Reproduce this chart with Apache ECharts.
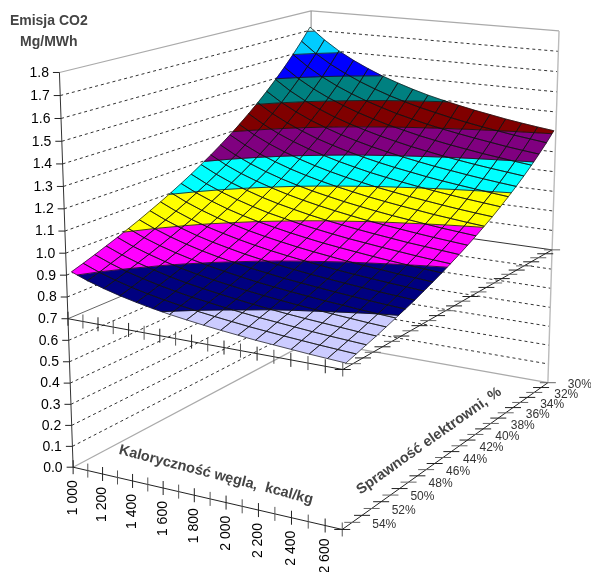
<!DOCTYPE html>
<html><head><meta charset="utf-8">
<style>html,body{margin:0;padding:0;background:#fff}#c{width:591px;height:572px}</style>
<script src="https://cdn.jsdelivr.net/npm/echarts@6/dist/echarts.min.js"></script>
</head><body><div id="c"></div>
<script>
// ---- chart data ----
const calorificValues = [1000,1100,1200,1300,1400,1500,1600,1700,1800,1900,2000,2100,2200,2300,2400,2500,2600];
const efficiencies = [30,31,32,33,34,35,36,37,38,39,40,41,42,43,44,45,46,47,48,49,50,51,52,53,54];
const valueTicks = [0,0.1,0.2,0.3,0.4,0.5,0.6,0.7,0.8,0.9,1.0,1.1,1.2,1.3,1.4,1.5,1.6,1.7,1.8];
const calorificLabels = ['1 000','1 200','1 400','1 600','1 800','2 000','2 200','2 400','2 600'];
const efficiencyLabels = ['30%','32%','34%','36%','38%','40%','42%','44%','46%','48%','50%','52%','54%'];
const eff30 = [1.719,1.659,1.608,1.566,1.530,1.498,1.471,1.446,1.424,1.405,1.388,1.372,1.358,1.344,1.332,1.321,1.311];
const eff31 = [1.657,1.599,1.551,1.511,1.476,1.446,1.419,1.396,1.375,1.357,1.340,1.325,1.311,1.299,1.287,1.277,1.267];
const eff32 = [1.600,1.545,1.499,1.460,1.427,1.398,1.373,1.350,1.331,1.313,1.297,1.283,1.270,1.258,1.246,1.236,1.227];
const eff33 = [1.547,1.494,1.450,1.413,1.381,1.353,1.329,1.307,1.289,1.271,1.256,1.242,1.230,1.218,1.208,1.198,1.189];
const eff34 = [1.497,1.446,1.404,1.368,1.337,1.311,1.288,1.267,1.249,1.232,1.218,1.204,1.192,1.181,1.171,1.162,1.153];
const eff35 = [1.450,1.401,1.361,1.326,1.297,1.271,1.249,1.229,1.212,1.196,1.182,1.169,1.158,1.147,1.137,1.128,1.120];
const eff36 = [1.406,1.359,1.320,1.287,1.258,1.234,1.212,1.193,1.176,1.161,1.148,1.135,1.124,1.114,1.105,1.096,1.088];
const eff37 = [1.365,1.320,1.282,1.250,1.223,1.199,1.178,1.160,1.143,1.129,1.116,1.104,1.093,1.083,1.074,1.066,1.058];
const eff38 = [1.326,1.282,1.246,1.215,1.188,1.165,1.145,1.127,1.112,1.097,1.085,1.073,1.063,1.053,1.044,1.036,1.029];
const eff39 = [1.289,1.247,1.211,1.182,1.156,1.134,1.115,1.098,1.083,1.069,1.057,1.046,1.036,1.026,1.018,1.010,1.003];
const eff40 = [1.254,1.213,1.179,1.150,1.125,1.104,1.085,1.069,1.054,1.041,1.029,1.018,1.009,1.000,0.991,0.984,0.977];
const eff41 = [1.221,1.181,1.148,1.121,1.097,1.076,1.058,1.042,1.028,1.015,1.003,0.993,0.984,0.975,0.967,0.960,0.953];
const eff42 = [1.190,1.152,1.120,1.093,1.069,1.049,1.032,1.016,1.002,0.990,0.979,0.969,0.960,0.951,0.944,0.937,0.930];
const eff43 = [1.160,1.123,1.092,1.066,1.043,1.023,1.007,0.991,0.978,0.966,0.955,0.946,0.937,0.929,0.921,0.914,0.908];
const eff44 = [1.132,1.096,1.066,1.040,1.018,0.999,0.983,0.968,0.955,0.943,0.933,0.924,0.915,0.907,0.900,0.893,0.887];
const eff45 = [1.105,1.070,1.041,1.016,0.995,0.976,0.960,0.946,0.933,0.922,0.912,0.902,0.894,0.887,0.879,0.873,0.867];
const eff46 = [1.079,1.045,1.016,0.992,0.972,0.954,0.938,0.924,0.912,0.901,0.891,0.882,0.874,0.867,0.860,0.854,0.848];
const eff47 = [1.055,1.022,0.994,0.970,0.950,0.933,0.917,0.904,0.892,0.881,0.871,0.863,0.855,0.848,0.841,0.835,0.829];
const eff48 = [1.031,0.999,0.972,0.949,0.929,0.912,0.898,0.884,0.873,0.862,0.853,0.845,0.837,0.830,0.823,0.817,0.812];
const eff49 = [1.009,0.977,0.951,0.929,0.910,0.893,0.879,0.866,0.854,0.844,0.835,0.827,0.819,0.813,0.806,0.800,0.795];
const eff50 = [0.987,0.956,0.931,0.909,0.890,0.874,0.860,0.848,0.837,0.827,0.818,0.810,0.803,0.796,0.790,0.784,0.779];
const eff51 = [0.967,0.937,0.912,0.891,0.872,0.856,0.843,0.831,0.820,0.810,0.801,0.793,0.786,0.780,0.774,0.768,0.763];
const eff52 = [0.947,0.918,0.893,0.873,0.855,0.840,0.826,0.815,0.804,0.795,0.786,0.779,0.772,0.765,0.759,0.754,0.749];
const eff53 = [0.928,0.899,0.875,0.855,0.838,0.823,0.810,0.798,0.788,0.779,0.770,0.763,0.756,0.750,0.744,0.739,0.734];
const eff54 = [0.910,0.882,0.859,0.839,0.822,0.807,0.794,0.783,0.773,0.764,0.756,0.748,0.742,0.736,0.730,0.725,0.720];
const emissionRows = [eff30,eff31,eff32,eff33,eff34,eff35,eff36,eff37,eff38,eff39,eff40,eff41,eff42,eff43,eff44,eff45,eff46,eff47,eff48,eff49,eff50,eff51,eff52,eff53,eff54];
const bandColors = ['#CCCCFF','#000080','#FF00FF','#FFFF00','#00FFFF','#800080','#800000','#008080','#0000FF','#00CCFF','#CCFFFF'];
const bandStart = 0.7, bandStep = 0.1;

// ---- camera: world box (bins along each category axis, value height) to page ----
const BX = 17, BY = 25, BZ = 1.8;
const cameraAnchors = [
  [0,0,0, 73.3,467.5],[0,0,1.8, 59.3,72],[0,0,0.7, 68.3,319.5],
  [BX,0,0, 342.3,529.3],[BX,0,0.7, 342.3,369],
  [BX,BY,0, 548.3,383],[BX,BY,1.8, 559,31],[BX,BY,0.7, 552,250],
  [0,BY,0, 311,340],[0,BY,1.8, 311.3,11]
];
function solveCamera(){
  const n=11, A=[...Array(n)].map(()=>Array(n+1).fill(0));
  function add(r,b){for(let i=0;i<n;i++){for(let j=0;j<n;j++)A[i][j]+=r[i]*r[j];A[i][n]+=r[i]*b;}}
  cameraAnchors.forEach(a=>{
    const x=a[0]/BX,y=a[1]/BY,z=a[2]/BZ,u=a[3]/500,v=a[4]/500;
    add([x,y,z,1,0,0,0,0,-u*x,-u*y,-u*z],u);
    add([0,0,0,0,x,y,z,1,-v*x,-v*y,-v*z],v);
  });
  for(let i=0;i<n;i++){
    let p=i;for(let r=i+1;r<n;r++)if(Math.abs(A[r][i])>Math.abs(A[p][i]))p=r;
    [A[i],A[p]]=[A[p],A[i]];
    for(let r=0;r<n;r++)if(r!==i){const f=A[r][i]/A[i][i];for(let c=i;c<=n;c++)A[r][c]-=f*A[i][c];}
  }
  return A.map((row,i)=>row[n]/row[i]);
}
const cam = solveCamera();
function project(X,Y,Z){
  const x=X/BX,y=Y/BY,z=Z/BZ,w=cam[8]*x+cam[9]*y+cam[10]*z+1;
  return [500*(cam[0]*x+cam[1]*y+cam[2]*z+cam[3])/w,500*(cam[4]*x+cam[5]*y+cam[6]*z+cam[7])/w];
}
// surface nodes inside the box
const surfX = i => 0.1 + i*(BX-0.1)/(calorificValues.length-1);
const surfY = r => 24.7 - r*24.4/(efficiencies.length-1);

const dark='#222', font='Liberation Sans, Arial, sans-serif';
function line(api,a,b,color,width,dash){
  const p=api.coord(a),q=api.coord(b);
  return {type:'line',shape:{x1:p[0],y1:p[1],x2:q[0],y2:q[1]},style:{stroke:color,lineWidth:width,lineDash:dash||null,fill:null}};
}
function text(api,pt,str,opts){
  const p=api.coord(pt);
  return {type:'text',x:p[0],y:p[1],rotation:opts.rotation||0,
    style:{text:str,align:opts.align||'center',verticalAlign:'middle',fill:opts.fill||'#000',font:(opts.weight||'normal')+' '+opts.size+'px '+font}};
}
// ---- box series ----
function renderWall(params,api){
  const t=valueTicks[params.dataIndex], A=project(0,0,t),D=project(0,BY,t),C=project(BX,BY,t);
  let c1='#333',c2='#333',w=1,dash=[3,3];
  if(params.dataIndex===0||params.dataIndex===valueTicks.length-1){c1=c2='#aaa';w=1.2;dash=null;}
  if(Math.abs(t-0.7)<1e-6){c1='#666';c2='#333';w=1;dash=null;}
  return {type:'group',children:[line(api,A,D,c1,w,dash),line(api,D,C,c2,w,dash)]};
}
function renderVerticals(params,api){
  const cols=['#333','#888','#bbb'], c=[[0,0],[0,BY],[BX,BY]][params.dataIndex];
  return line(api,project(c[0],c[1],0),project(c[0],c[1],BZ),cols[params.dataIndex],params.dataIndex===2?1.4:1);
}
function renderValueTick(params,api){
  const t=valueTicks[params.dataIndex],p=project(0,0,t);
  return {type:'group',children:[
    line(api,[p[0]-6.5,p[1]],p,dark,1),
    text(api,[p[0]-10.5,p[1]+0.5],t.toFixed(1),{size:14,align:'right'})
  ]};
}
function renderFloorAxes(params,api){
  const lvl=[0,0.7][params.dataIndex],ch=[];
  const a=project(0,0,lvl),b=project(BX,0,lvl),c=project(BX,BY,lvl);
  ch.push(line(api,a,b,dark,1),line(api,b,c,dark,1));
  for(let i=0;i<=BX;i++){const p=project(i,0,lvl);ch.push(line(api,[p[0],p[1]-7],[p[0],p[1]+7],i%2?'#555':dark,1));}
  for(let j=0;j<=BY;j++){const p=project(BX,j,lvl);ch.push(line(api,[p[0]-8,p[1]],[p[0]+8,p[1]],j%2?'#666':dark,1));}
  return {type:'group',children:ch};
}
function renderCalorificLabel(params,api){
  const p=project(params.dataIndex*2,0,0);
  return text(api,[p[0],p[1]+13],calorificLabels[params.dataIndex],{size:14,align:'right',rotation:Math.PI/2});
}
function renderEfficiencyLabel(params,api){
  const p=project(BX,BY-params.dataIndex*2,0);
  return text(api,[p[0]+32,p[1]+2],efficiencyLabels[params.dataIndex],{size:12,fill:'#333'});
}
// ---- surface ----
const surfaceCells=[];
for(let r=0;r<efficiencies.length-1;r++)for(let i=0;i<calorificValues.length-1;i++)surfaceCells.push([i,r]);
function cellNodes(i,r){
  return [[i,r],[i+1,r],[i+1,r+1],[i,r+1]].map(n=>[surfX(n[0]),surfY(n[1]),emissionRows[n[1]][n[0]]]);
}
function clipAt(poly,level,keepAbove){
  const out=[];
  for(let k=0;k<poly.length;k++){
    const a=poly[k],b=poly[(k+1)%poly.length];
    const ia=keepAbove?a[2]>=level:a[2]<=level, ib=keepAbove?b[2]>=level:b[2]<=level;
    if(ia)out.push(a);
    if(ia!==ib){const t=(level-a[2])/(b[2]-a[2]);out.push([a[0]+t*(b[0]-a[0]),a[1]+t*(b[1]-a[1]),level]);}
  }
  return out;
}
function renderCellFill(params,api){
  const nodes=cellNodes(api.value(0),api.value(1)),ch=[];
  bandColors.forEach((col,b)=>{
    let poly=clipAt(nodes,bandStart+b*bandStep,true);
    if(poly.length)poly=clipAt(poly,bandStart+(b+1)*bandStep,false);
    if(poly.length<3)return;
    const pts=poly.map(v=>api.coord(project(v[0],v[1],v[2])));
    ch.push({type:'polygon',shape:{points:pts},style:{fill:col,stroke:col,lineWidth:0.5}});
  });
  return {type:'group',children:ch};
}
function renderCellMesh(params,api){
  const nodes=cellNodes(api.value(0),api.value(1)),ch=[];
  const pts=nodes.map(v=>api.coord(project(v[0],v[1],v[2])));
  ch.push({type:'polygon',shape:{points:pts},style:{fill:null,stroke:'#111',lineWidth:0.7}});
  for(let b=1;b<bandColors.length;b++){
    const lvl=bandStart+b*bandStep,cross=[];
    for(let k=0;k<4;k++){
      const a=nodes[k],c=nodes[(k+1)%4];
      if((a[2]<lvl)!==(c[2]<lvl)){const t=(lvl-a[2])/(c[2]-a[2]);cross.push([a[0]+t*(c[0]-a[0]),a[1]+t*(c[1]-a[1]),lvl]);}
    }
    if(cross.length>=2){
      const p=api.coord(project(...cross[0])),q=api.coord(project(...cross[1]));
      ch.push({type:'line',shape:{x1:p[0],y1:p[1],x2:q[0],y2:q[1]},style:{stroke:'#111',lineWidth:0.8}});
    }
  }
  return {type:'group',children:ch};
}
// ---- free text ----
const freeTexts=[
  ['Emisja CO2',[48.8,21],{size:14,weight:'bold',fill:'#444'}],
  ['Mg/MWh',[48.8,42.5],{size:14,weight:'bold',fill:'#444'}],
  ['Kaloryczność węgla,  kcal/kg',[216,475],{size:14.5,weight:'bold',fill:'#444',rotation:-14.5*Math.PI/180}],
  ['Sprawność elektrowni, %',[429,441],{size:14.5,weight:'bold',fill:'#444',rotation:35.4*Math.PI/180}]
];
function custom(z,data,renderItem){
  return {type:'custom',coordinateSystem:'cartesian2d',z,clip:false,silent:true,animation:false,
    data:data.map(d=>Array.isArray(d)?d:[d,0]),encode:{x:0,y:1},renderItem};
}
const chart=echarts.init(document.getElementById('c'),null,{renderer:'canvas'});
chart.setOption({
  animation:false,backgroundColor:'#fff',
  grid:{left:0,right:0,top:0,bottom:0},
  xAxis:{type:'value',min:0,max:591,show:false},
  yAxis:{type:'value',min:0,max:572,inverse:true,show:false},
  tooltip:{show:false},
  series:[
    custom(1,valueTicks.map((t,i)=>i),renderWall),
    custom(2,[0,1,2],renderVerticals),
    custom(3,[0,1],renderFloorAxes),
    custom(4,surfaceCells,renderCellFill),
    custom(5,surfaceCells,renderCellMesh),
    custom(6,valueTicks.map((t,i)=>i),renderValueTick),
    custom(6,calorificLabels.map((t,i)=>i),renderCalorificLabel),
    custom(6,efficiencyLabels.map((t,i)=>i),renderEfficiencyLabel),
    custom(6,freeTexts.map((t,i)=>i),(p,api)=>text(api,freeTexts[p.dataIndex][1],freeTexts[p.dataIndex][0],freeTexts[p.dataIndex][2]))
  ]
});
</script></body></html>
